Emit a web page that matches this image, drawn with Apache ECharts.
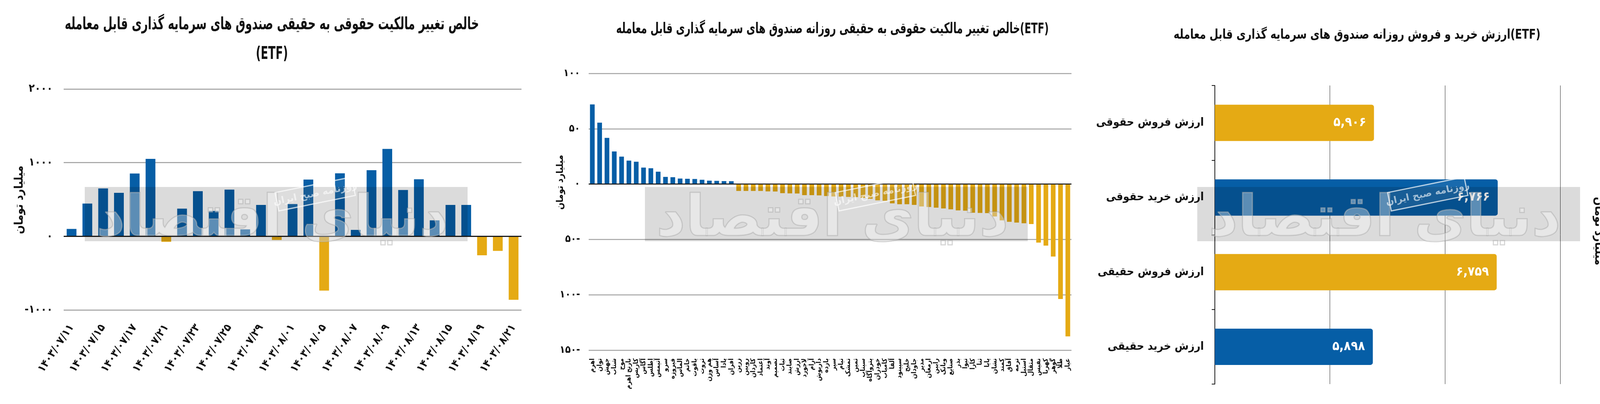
<!DOCTYPE html>
<html><head><meta charset="utf-8">
<script src="https://cdn.jsdelivr.net/npm/echarts@6/dist/echarts.min.js"></script>
<style>html,body{margin:0;padding:0;background:#fff}#c{width:4171px;height:1035px}</style>
</head><body><div id="c"></div>
<script>
// ---------- DATA ----------
const dates = ['۱۴۰۳/۰۷/۱۱','۱۴۰۳/۰۷/۱۴','۱۴۰۳/۰۷/۱۵','۱۴۰۳/۰۷/۱۶','۱۴۰۳/۰۷/۱۷','۱۴۰۳/۰۷/۱۸','۱۴۰۳/۰۷/۲۱','۱۴۰۳/۰۷/۲۲','۱۴۰۳/۰۷/۲۳','۱۴۰۳/۰۷/۲۴','۱۴۰۳/۰۷/۲۵','۱۴۰۳/۰۷/۲۸','۱۴۰۳/۰۷/۲۹','۱۴۰۳/۰۷/۳۰','۱۴۰۳/۰۸/۰۱','۱۴۰۳/۰۸/۰۲','۱۴۰۳/۰۸/۰۵','۱۴۰۳/۰۸/۰۶','۱۴۰۳/۰۸/۰۷','۱۴۰۳/۰۸/۰۸','۱۴۰۳/۰۸/۰۹','۱۴۰۳/۰۸/۱۲','۱۴۰۳/۰۸/۱۳','۱۴۰۳/۰۸/۱۴','۱۴۰۳/۰۸/۱۵','۱۴۰۳/۰۸/۱۶','۱۴۰۳/۰۸/۱۹','۱۴۰۳/۰۸/۲۰','۱۴۰۳/۰۸/۲۱'];
const netChange = [100,445,650,590,852,1051,-75,375,613,343,634,94,426,-50,438,770,-738,855,87,898,1187,629,774,217,426,426,-258,-198,-862];

const funds = ['اهرم','توان','جهش','شتاب','موج','نارنج اهرم','کاریس','آگاس','اطلس','آتیمس','سرو','فیروزه','الماس','خاتم','یاقوت','ثروت','هم وزن','آساس','پادا','افران',
'زرین','رویین','کاردان','اعتماد','آوند','تصمیم','ثبات','صایند','ارزش','لاجورد','آرام','داریوش','بازده','سپر','تیام','تمشک','ثمین','سیناب','پتروآگاه','خودران','کامیاب','آلفا','سپینود','خلیج','جاودان','مدیر','ارمغان','رابین','وبانک','صنایع','بذر','تیوا','کارا','ثنا','پایا','نشان','کمند','آفاق','ترمه','استیل','مثقال','نفیس','کهربا','گوهر','طلا','عیار'];
const fundChange = [72,55.5,41.7,29.5,24.8,21.2,20.2,14.9,14.3,11.2,6.5,6.2,5.0,4.8,4.6,3.9,3.1,2.9,2.7,2.6,
-6.2,-6.2,-6.2,-6.2,-6.6,-6.7,-8.2,-8.4,-8.5,-10.0,-10.0,-10.2,-10.8,-11.2,-11.3,-11.6,-11.8,-12.4,-13.3,-14.7,-15.1,-17.4,-18.2,-18.2,
-18.8,-20.2,-20.7,-21.3,-22.0,-22.8,-23.8,-24.0,-25.9,-26.1,-26.2,-29.2,-32.8,-34.1,-34.8,-35.4,-36.1,-52.9,-55.6,-65.5,-103.8,-137.6];

const tradeCats = ['ارزش فروش حقوقی','ارزش خرید حقوقی','ارزش فروش حقیقی','ارزش خرید حقیقی'];
const tradeVals = [5906, 6766, 6759, 5898];

const title1a = 'خالص تغییر مالکیت حقوقی به حقیقی صندوق های سرمایه گذاری قابل معامله';
const title1b = '(ETF)';
const title2 = 'خالص تغییر مالکیت حقوقی به حقیقی روزانه صندوق های سرمایه گذاری قابل معامله(ETF)';
const title3 = 'ارزش خرید و فروش روزانه صندوق های سرمایه گذاری قابل معامله(ETF)';
const unitName = 'میلیارد تومان';

// ---------- STYLE ----------
const BLUE = '#065ea6', GOLD = '#e5aa14', INK = '#111';
const FF = '"DejaVu Sans Condensed","DejaVu Sans",sans-serif';
const fa = s => String(s).replace(/[0-9]/g, d => '۰۱۲۳۴۵۶۷۸۹'[d]);
const colorBySign = v => v >= 0 ? BLUE : GOLD;

const chart = echarts.init(document.getElementById('c'), null, {renderer: 'canvas'});

function watermark(x) {
  return [
    {type: 'rect', z: 100, shape: {x: x, y: 479, width: 980, height: 139}, style: {fill: 'rgba(0,0,0,0.14)'}},
    {type: 'text', z: 101, x: x + 480, y: 565, style: {text: 'دنیای اقتصاد', font: 'bold 145px "DejaVu Sans"', fill: 'rgba(255,255,255,0.35)', stroke: 'rgba(160,160,160,0.5)', lineWidth: 3, textAlign: 'center', textVerticalAlign: 'middle'}},
    {type: 'group', z: 102, x: x + 590, y: 497, rotation: 0.2, children: [
      {type: 'rect', z: 102, shape: {x: -100, y: -24, width: 200, height: 48}, style: {fill: 'rgba(255,255,255,0.08)', stroke: 'rgba(255,255,255,0.7)', lineWidth: 3}},
      {type: 'text', z: 103, style: {text: 'روزنامه صبح ایران', font: 'bold 24px "DejaVu Sans"', fill: 'rgba(255,255,255,0.6)', textAlign: 'center', textVerticalAlign: 'middle'}}
    ]}
  ];
}

function tText(text, x, y, size, rot, sx) {
  return {type: 'text', z: 50, x: x, y: y, rotation: rot || 0, scaleX: sx || 1,
    style: {text: text, font: 'bold ' + size + 'px ' + FF, fill: INK, textAlign: 'center', textVerticalAlign: 'middle'}};
}

const zeroLine = {silent: true, symbol: 'none', label: {show: false}, lineStyle: {color: '#1a1a1a', width: 3, type: 'solid'}, data: [{yAxis: 0}]};

const option = {
  backgroundColor: '#fff',
  animation: false,
  grid: [
    {left: 163, top: 228, width: 1172, height: 566},
    {left: 1507, top: 188, width: 1236, height: 709},
    {left: 3110, top: 219, width: 884, height: 765}
  ],
  xAxis: [
    {type: 'category', gridIndex: 0, data: dates,
      axisLine: {show: false}, axisTick: {show: false},
      axisLabel: {interval: 1, rotate: 56, margin: 40, fontSize: 28, fontWeight: 'bold', fontFamily: FF, color: INK}},
    {type: 'category', gridIndex: 1, data: funds,
      axisLine: {show: false}, axisTick: {show: false},
      axisLabel: {interval: 0, rotate: 90, margin: 21, fontSize: 17, fontWeight: 'bold', fontFamily: FF, color: INK}},
    {type: 'value', gridIndex: 2, min: 4800, max: 7200, interval: 800,
      axisLine: {show: false}, axisTick: {show: false}, axisLabel: {show: false},
      splitLine: {show: true, lineStyle: {color: '#2a2a2a', width: 1}}}
  ],
  yAxis: [
    {type: 'value', gridIndex: 0, min: -1000, max: 2000, interval: 1000,
      axisLine: {show: false}, axisTick: {show: false},
      splitLine: {lineStyle: {color: '#9d9d9d', width: 2.5}},
      axisLabel: {margin: 28, fontSize: 28, fontWeight: 'bold', fontFamily: FF, color: INK,
        formatter: v => v < 0 ? '-' + fa(-v) : fa(v)}},
    {type: 'value', gridIndex: 1, min: -150, max: 100, interval: 50,
      axisLine: {show: false}, axisTick: {show: false},
      splitLine: {lineStyle: {color: '#a3a3a3', width: 2.5}},
      axisLabel: {margin: 22, fontSize: 26, fontWeight: 'bold', fontFamily: FF, color: INK,
        formatter: v => v < 0 ? fa(-v) + '-' : fa(v)}},
    {type: 'category', gridIndex: 2, data: tradeCats, inverse: true,
      axisLine: {show: true, lineStyle: {color: '#1a1a1a', width: 2}},
      axisTick: {show: true, length: 8, lineStyle: {color: '#1a1a1a', width: 2}},
      axisLabel: {margin: 28, fontSize: 29, fontWeight: 'bold', fontFamily: FF, color: INK}}
  ],
  series: [
    {type: 'bar', xAxisIndex: 0, yAxisIndex: 0, barWidth: 25,
      data: netChange.map(v => ({value: v, itemStyle: {color: colorBySign(v)}})),
      markLine: zeroLine},
    {type: 'bar', xAxisIndex: 1, yAxisIndex: 1, barWidth: 12,
      data: fundChange.map(v => ({value: v, itemStyle: {color: colorBySign(v)}})),
      markLine: Object.assign({}, zeroLine, {lineStyle: {color: '#1a1a1a', width: 2.5, type: 'solid'}})},
    {type: 'bar', xAxisIndex: 2, yAxisIndex: 2, barWidth: 93,
      data: tradeVals.map((v, i) => ({value: v, itemStyle: {color: i % 2 === 0 ? GOLD : BLUE, borderRadius: [0, 6, 6, 0]}})),
      label: {show: true, position: 'insideRight', distance: 20, color: '#fff', fontSize: 33, fontWeight: 'bold', fontFamily: FF,
        formatter: p => fa(p.value.toLocaleString('en-US'))}}
  ],
  graphic: [
    tText(title1a, 696, 64, 44, 0, 0.70),
    tText(title1b, 696, 140, 44, 0, 0.70),
    tText(title2, 2131, 75, 38, 0, 0.725),
    tText(title3, 3474, 90, 34, 0, 0.85),
    tText(unitName, 50, 512, 30, Math.PI / 2),
    tText(unitName, 1435, 467, 24, Math.PI / 2),
    tText(unitName, 4092, 592, 30, -Math.PI / 2)
  ].concat(watermark(217), watermark(1651), watermark(3065))
};
chart.setOption(option);
</script>
</body></html>
